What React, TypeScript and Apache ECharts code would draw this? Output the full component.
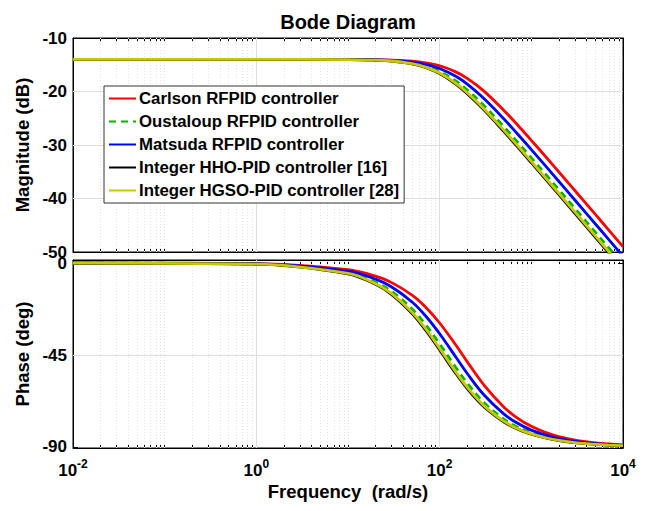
import React, { useEffect, useRef } from "react";
import * as echarts from "echarts";

const FREQ = [0.01, 1, 10, 20, 30, 50, 70, 100, 150, 200, 300, 500, 700, 1000, 1500, 2000, 3000, 5000, 7000, 10000];

const NAMES = [
  "Carlson RFPID controller",
  "Oustaloup RFPID controller",
  "Matsuda RFPID controller",
  "Integer HHO-PID controller [16]",
  "Integer HGSO-PID controller [28]",
];

// Magnitude (dB)
const MAG_CARLSON = [-14, -14, -14.01, -14.05, -14.12, -14.33, -14.63, -15.19, -16.33, -17.55, -19.84, -23.49, -26.17, -29.13, -32.57, -35.05, -38.55, -42.98, -45.9, -49.0];
const MAG_OUSTALOUP = [-14, -14, -14.03, -14.12, -14.26, -14.68, -15.25, -16.26, -18.04, -19.72, -22.54, -26.57, -29.37, -32.41, -35.89, -38.38, -41.89, -46.33, -49.25, -52.34];
const MAG_MATSUDA = [-14, -14, -14.02, -14.08, -14.18, -14.49, -14.91, -15.69, -17.16, -18.63, -21.23, -25.1, -27.86, -30.86, -34.33, -36.82, -40.33, -44.76, -47.68, -50.77];
const MAG_HHO = [-14, -14, -14.04, -14.15, -14.32, -14.83, -15.5, -16.66, -18.62, -20.41, -23.34, -27.44, -30.26, -33.31, -36.8, -39.29, -42.8, -47.24, -50.16, -53.26];
const MAG_HGSO = [-14, -14, -14.03, -14.14, -14.3, -14.79, -15.43, -16.55, -18.46, -20.22, -23.12, -27.21, -30.03, -33.07, -36.56, -39.05, -42.56, -47.0, -49.92, -53.02];

// Phase (deg)
const PH_CARLSON = [0, -0.32, -3.22, -6.41, -9.57, -15.69, -21.47, -29.33, -40.12, -48.33, -59.32, -70.4, -75.73, -79.91, -83.23, -84.91, -86.6, -87.96, -88.54, -88.98];
const PH_OUSTALOUP = [0, -0.47, -4.72, -9.39, -13.92, -22.45, -30.05, -39.57, -51.11, -58.83, -68.03, -76.39, -80.19, -83.1, -85.39, -86.54, -87.69, -88.61, -89.01, -89.31];
const PH_MATSUDA = [0, -0.4, -3.95, -7.85, -11.69, -19.03, -25.77, -34.59, -45.97, -54.06, -64.21, -73.83, -78.3, -81.75, -84.48, -85.85, -87.23, -88.34, -88.81, -89.17];
const PH_HHO = [0, -0.53, -5.25, -10.41, -15.4, -24.66, -32.73, -42.55, -54.01, -61.42, -70.04, -77.7, -81.15, -83.78, -85.85, -86.88, -87.92, -88.76, -89.11, -89.38];
const PH_HGSO = [0, -0.51, -5.1, -10.13, -15.0, -24.06, -32.01, -41.76, -53.26, -60.75, -69.53, -77.37, -80.91, -83.61, -85.73, -86.79, -87.86, -88.72, -89.08, -89.36];

// Tick labels
const X_LABELS = [0.01, 1, 100, 10000];
const X_MAJOR_GRID = [1, 100];
const MAG_TICKS = [-50, -40, -30, -20, -10];
const MAG_GRID = [-40, -30, -20];
const PHASE_TICKS = [-90, -45, 0];
const PHASE_GRID = [-45];

const FONT = "'Liberation Sans', Arial, Helvetica, sans-serif";

export default function App() {
  const ref = useRef<HTMLDivElement>(null);

  useEffect(() => {
    const chart = echarts.init(ref.current!, null, { renderer: "svg" });

    // log-axis tick positions: every integer multiple inside each decade
    const xTicks: number[] = [];
    const xMinorGrid: number[] = [];
    for (let d = -2; d <= 3; d++) {
      for (let k = 1; k <= 9; k++) {
        const v = parseFloat((k * Math.pow(10, d)).toPrecision(6));
        xTicks.push(v);
        if (v > 0.01 && X_MAJOR_GRID.indexOf(v) < 0) xMinorGrid.push(v);
      }
    }
    xTicks.push(10000);

    const colors = ["#ff0000", "#00b400", "#0000ff", "#000000", "#c8c800"];
    const dashes: any[] = ["solid", [7, 5], "solid", "solid", "solid"];
    const mags = [MAG_CARLSON, MAG_OUSTALOUP, MAG_MATSUDA, MAG_HHO, MAG_HGSO];
    const phs = [PH_CARLSON, PH_OUSTALOUP, PH_MATSUDA, PH_HHO, PH_HGSO];

    const supFmt = (v: number) => {
      const e = Math.round(Math.log10(v));
      return `{b|10}{s|${e}}`;
    };

    const xAxisBase = (gridIndex: number, top: boolean) => ({
      type: "log",
      logBase: 10,
      min: 0.01,
      max: 10000,
      gridIndex,
      position: top ? "top" : "bottom",
      axisLine: { show: true, onZero: false, lineStyle: { color: "#000", width: 1 } },
      axisTick: { show: true, inside: true, length: 4, customValues: xTicks, lineStyle: { color: "#000", width: 1 } },
      axisLabel: {
        show: !top && gridIndex === 1,
        customValues: X_LABELS,
        formatter: supFmt,
        margin: 10,
        color: "#000",
        rich: {
          b: { fontSize: 17, fontWeight: "bold", fontFamily: FONT, color: "#000" },
          s: { fontSize: 12, fontWeight: "bold", fontFamily: FONT, color: "#000", padding: [0, 0, 12, 0] },
        },
      },
      splitLine: { show: false },
      name: !top && gridIndex === 1 ? "Frequency  (rad/s)" : "",
      nameLocation: "middle",
      nameGap: 34,
      nameTextStyle: { fontSize: 18.5, fontWeight: "bold", fontFamily: FONT, color: "#000" },
    });

    const yAxisBase = (gridIndex: number, right: boolean, isMag: boolean) => ({
      type: "value",
      gridIndex,
      position: right ? "right" : "left",
      min: isMag ? -50 : -90.5,
      max: isMag ? -10 : 1.5,
      axisLine: { show: true, onZero: false, lineStyle: { color: "#000", width: 1 } },
      axisTick: { show: true, inside: true, length: 5, customValues: isMag ? MAG_TICKS : PHASE_TICKS, lineStyle: { color: "#000" } },
      axisLabel: {
        show: !right,
        customValues: isMag ? MAG_TICKS : PHASE_TICKS,
        margin: 6,
        fontSize: 17,
        fontWeight: "bold",
        fontFamily: FONT,
        color: "#000",
      },
      splitLine: { show: false },
      name: right ? "" : isMag ? "Magnitude (dB)" : "Phase (deg)",
      nameLocation: "middle",
      nameGap: 30,
      nameRotate: 90,
      nameTextStyle: { fontSize: 18.5, fontWeight: "bold", fontFamily: FONT, color: "#000" },
    });

    const gridLines = (yVals: number[]) => [
      ...X_MAJOR_GRID.map((v) => ({ xAxis: v, lineStyle: { color: "#dedede", width: 1, type: "solid" } })),
      ...xMinorGrid.map((v) => ({ xAxis: v, lineStyle: { color: "#e4e4e4", width: 1, type: [1, 2] } })),
      ...yVals.map((v) => ({ yAxis: v, lineStyle: { color: "#dedede", width: 1, type: "solid" } })),
    ];

    const gridSeries = (xi: number, yi: number, yVals: number[]) => ({
      type: "line",
      xAxisIndex: xi,
      yAxisIndex: yi,
      data: [],
      silent: true,
      z: 1,
      markLine: {
        silent: true,
        z: 1,
        symbol: ["none", "none"],
        label: { show: false },
        animation: false,
        data: gridLines(yVals),
      },
    });

    const series: any[] = [gridSeries(0, 0, MAG_GRID), gridSeries(2, 2, PHASE_GRID)];
    for (let i = 0; i < NAMES.length; i++) {
      const common = {
        type: "line",
        name: NAMES[i],
        symbol: "none",
        smooth: 0.35,
        clip: true,
        z: 2,
        lineStyle: { color: colors[i], width: 2.8, type: dashes[i] },
        itemStyle: { color: colors[i] },
      };
      series.push({ ...common, xAxisIndex: 0, yAxisIndex: 0, data: FREQ.map((f, j) => [f, mags[i][j]]) });
      series.push({ ...common, xAxisIndex: 2, yAxisIndex: 2, data: FREQ.map((f, j) => [f, phs[i][j]]) });
    }

    chart.setOption({
      animation: false,
      backgroundColor: "#fff",
      textStyle: { fontFamily: FONT },
      graphic: [
        {
          type: "text",
          x: 348,
          y: 22,
          style: {
            text: "Bode Diagram",
            fill: "#000",
            fontSize: 20,
            fontWeight: "bold",
            fontFamily: FONT,
            align: "center",
            verticalAlign: "middle",
          },
        },
      ],
      grid: [
        { left: 73, top: 38, width: 550, height: 214, show: true, borderColor: "#000", borderWidth: 1, backgroundColor: "transparent" },
        { left: 73, top: 260, width: 550, height: 188, show: true, borderColor: "#000", borderWidth: 1, backgroundColor: "transparent" },
      ],
      xAxis: [xAxisBase(0, false), xAxisBase(0, true), xAxisBase(1, false), xAxisBase(1, true)],
      yAxis: [yAxisBase(0, false, true), yAxisBase(0, true, true), yAxisBase(1, false, false), yAxisBase(1, true, false)],
      legend: {
        orient: "vertical",
        left: 104,
        top: 86,
        z: 10,
        data: NAMES,
        itemWidth: 27,
        itemHeight: 14,
        itemGap: 6,
        padding: [4, 5, 4, 4],
        backgroundColor: "#fff",
        borderColor: "#333",
        borderWidth: 1,
        selectedMode: false,
        itemStyle: { opacity: 0 },
        textStyle: { fontSize: 16.8, fontWeight: "bold", fontFamily: FONT, color: "#000", lineHeight: 16, padding: [0, 0, 0, -2] },
      },
      series,
    });

    return () => chart.dispose();
  }, []);

  return <div ref={ref} style={{ position: "fixed", left: 0, top: 0, width: 649, height: 511 }} />;
}
